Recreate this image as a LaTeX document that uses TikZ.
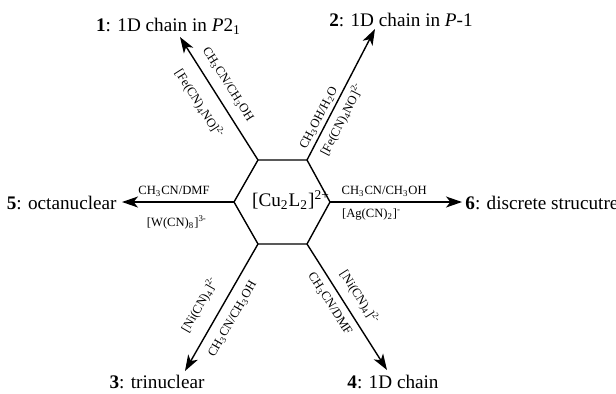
\documentclass[tikz,border=0pt]{standalone}
\usepackage{fontspec}
\setmainfont{Liberation Serif}
\usetikzlibrary{arrows.meta}
\begin{document}
\begin{tikzpicture}[x=0.5pt,y=-0.5pt,
  conn/.style={line width=0.7pt,-{Stealth[length=8pt,width=5.5pt,inset=2.2pt]}},
  cond/.style={font=\fontsize{6.3}{7}\selectfont, inner sep=0pt, sloped},
  prod/.style={font=\fontsize{9.6}{11}\selectfont, inner sep=0pt, anchor=base},
  hexline/.style={line width=0.7pt, line join=miter}]
\useasboundingbox (0,0) rectangle (616,393);

% hexagon corners
\coordinate (hE)  at (330,202);
\coordinate (hNE) at (307,160);
\coordinate (hNW) at (258,160);
\coordinate (hW)  at (234,202);
\coordinate (hSW) at (258,244);
\coordinate (hSE) at (307,244);
\draw[hexline] (hE) -- (hNE) -- (hNW) -- (hW) -- (hSW) -- (hSE) -- cycle;
\node[prod] (core) at (291,206.5) {[Cu\textsubscript{2}L\textsubscript{2}]\textsuperscript{2+}};

% arrow ends
\coordinate (t1) at (180,37);
\coordinate (t2) at (375,29);
\coordinate (t3) at (185,371);
\coordinate (t4) at (387,370);
\coordinate (t5) at (122,202);
\coordinate (t6) at (462,202);

% products
\node[prod] (p1) at (168.5,31.7) {\textbf{1}: 1D chain in \textit{P}2\textsubscript{1}};
\node[prod] (p2) at (401,26.7) {\textbf{2}: 1D chain in \textit{P}-1};
\node[prod] (p3) at (157,388) {\textbf{3}: trinuclear};
\node[prod] (p4) at (393,388) {\textbf{4}: 1D chain};
\node[prod, anchor=base east] (p5) at (117,209.5) {\textbf{5}: octanuclear};
\node[prod, anchor=base west] (p6) at (465,209.5) {\textbf{6}: discrete strucutre};

% reactions
\draw[conn] (hNW) --
  node[cond, pos=0.55, above=4.5pt] (c1a) {CH\textsubscript{3}CN/CH\textsubscript{3}OH}
  node[cond, pos=0.54, below=6pt] (c1b) {[Fe(CN)\textsubscript{4}NO]\textsuperscript{2-}} (t1);
\draw[conn] (hNE) --
  node[cond, pos=0.29, above=1.4pt] (c2a) {CH\textsubscript{3}OH/H\textsubscript{2}O}
  node[cond, pos=0.35, below=2.5pt] (c2b) {[Fe(CN)\textsubscript{4}NO]\textsuperscript{2-}} (t2);
\draw[conn] (hSW) --
  node[cond, pos=0.56, above=6.3pt] (c3a) {[Ni(CN)\textsubscript{4}]\textsuperscript{2-}}
  node[cond, pos=0.53, below=4.8pt] (c3b) {CH\textsubscript{3}CN/CH\textsubscript{3}OH} (t3);
\draw[conn] (hSE) --
  node[cond, pos=0.49, above=4.2pt] (c4a) {[Ni(CN)\textsubscript{4}]\textsuperscript{2-}}
  node[cond, pos=0.42, below=3.5pt] (c4b) {CH\textsubscript{3}CN/DMF} (t4);
\draw[conn] (hW) --
  node[cond, pos=0.536, above=2.2pt] (c5a) {CH\textsubscript{3}CN/DMF}
  node[cond, pos=0.51, below=6.5pt] (c5b) {[W(CN)\textsubscript{8}]\textsuperscript{3-}} (t5);
\draw[conn] (hE) --
  node[cond, pos=0.41, above=2.5pt] (c6a) {CH\textsubscript{3}CN/CH\textsubscript{3}OH}
  node[cond, pos=0.315, below=3.2pt] (c6b) {[Ag(CN)\textsubscript{2}]\textsuperscript{-}} (t6);
\end{tikzpicture}
\end{document}
